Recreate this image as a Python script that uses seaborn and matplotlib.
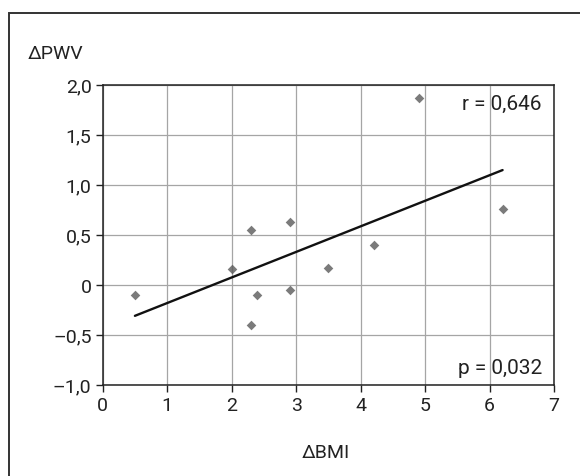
import pandas as pd
import matplotlib.pyplot as plt
import seaborn as sns
from matplotlib.patches import Rectangle

# Datos
delta_bmi = [0.5, 2.0, 2.3, 2.4, 2.3, 2.9, 2.9, 3.5, 4.2, 4.9, 6.2]
delta_pwv = [-0.10, 0.16, 0.55, -0.10, -0.40, 0.63, -0.05, 0.17, 0.40, 1.87, 0.76]
x_ticks = [0, 1, 2, 3, 4, 5, 6, 7]
y_ticks = [-1.0, -0.5, 0, 0.5, 1.0, 1.5, 2.0]
y_tick_labels = ['\u20131,0', '\u20130,5', '0', '0,5', '1,0', '1,5', '2,0']
r_text = 'r = 0,646'
p_text = 'p = 0,032'

data = pd.DataFrame({'bmi': delta_bmi, 'pwv': delta_pwv})

sns.set_style('white')
plt.rcParams['font.family'] = ['Roboto', 'DejaVu Sans']

fig = plt.figure(figsize=(5.8, 4.77), dpi=100)
ax = fig.add_axes([0.177, 0.1914, 0.7785, 0.6289])

sns.regplot(data=data, x='bmi', y='pwv', ax=ax, ci=None, marker='D',
            scatter_kws={'s': 24, 'color': '#5a5a5a', 'linewidths': 0, 'zorder': 3},
            line_kws={'color': '#111111', 'linewidth': 1.7, 'zorder': 4})

ax.set_xlim(0, 7)
ax.set_ylim(-1.0, 2.0)
ax.set_xticks(x_ticks)
ax.set_xticklabels([str(t) for t in x_ticks])
ax.set_yticks(y_ticks)
ax.set_yticklabels(y_tick_labels)
ax.grid(True, color='#a5a5a5', linewidth=0.9)
ax.set_axisbelow(True)
for side in ['left', 'bottom', 'top', 'right']:
    ax.spines[side].set_visible(True)
    ax.spines[side].set_color('#222222')
    ax.spines[side].set_linewidth(1.1)
ax.tick_params(axis='both', direction='out', length=5, width=1, color='#222222',
               labelsize=14, labelcolor='#222222', pad=3, left=True, bottom=True)
ax.set_xlabel('')
ax.set_ylabel('')

ax.text(6.80, 1.817, r_text, ha='right', va='center', fontsize=15, color='#222222')
ax.text(6.82, -0.823, p_text, ha='right', va='center', fontsize=15, color='#222222')

fig.text(28 / 580, 1 - 54 / 477, '\u0394PWV', ha='left', va='center', fontsize=14,
         color='#222222')
fig.text(326 / 580, 1 - 453 / 477, '\u0394BMI', ha='center', va='center', fontsize=14,
         color='#222222')

# Marco exterior
fig.add_artist(Rectangle((9 / 580, -0.2), 1.2, 1.2 - 14 / 477, transform=fig.transFigure,
                         fill=False, edgecolor='#333333', linewidth=1.4))

plt.savefig('out.png', dpi=100)
